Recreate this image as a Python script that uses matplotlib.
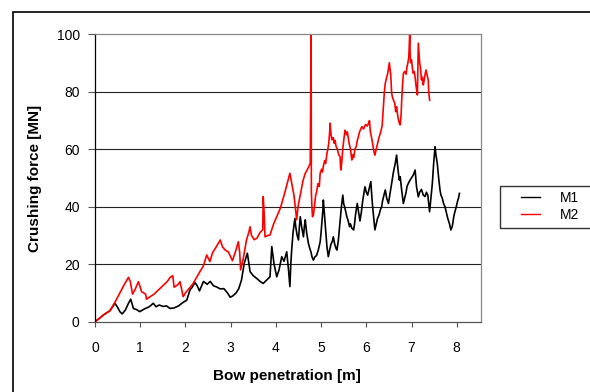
import matplotlib
matplotlib.use('Agg')
import matplotlib.pyplot as plt
from matplotlib.patches import Rectangle

# Crushing force vs bow penetration
m1_x = [0, 0.1, 0.2, 0.33, 0.44, 0.5, 0.55, 0.6, 0.67, 0.74, 0.79, 0.85, 0.92, 0.99,
        1.1, 1.2, 1.29, 1.35, 1.42, 1.51, 1.58, 1.66, 1.75, 1.85, 1.92, 2.03, 2.1,
        2.15, 2.21, 2.26, 2.31, 2.36, 2.4, 2.48, 2.55, 2.62, 2.7, 2.77, 2.85, 2.93,
        2.99, 3.05, 3.12, 3.18, 3.24, 3.3, 3.37, 3.43, 3.5, 3.58, 3.65, 3.72, 3.8,
        3.87, 3.91, 3.96, 4.02, 4.07, 4.13, 4.18, 4.24, 4.28,
        4.31, 4.33, 4.35, 4.38, 4.42, 4.44, 4.47, 4.5, 4.52, 4.54, 4.57, 4.61, 4.63,
        4.65, 4.68, 4.72, 4.75, 4.78, 4.8, 4.83, 4.86, 4.9, 4.94, 4.98, 5.0, 5.02,
        5.04, 5.05, 5.07, 5.1, 5.13, 5.16, 5.19, 5.22, 5.25, 5.27, 5.3, 5.33, 5.35,
        5.38, 5.42, 5.45, 5.48, 5.5, 5.52, 5.55, 5.57, 5.6, 5.63, 5.65, 5.68, 5.72,
        5.74, 5.76, 5.78, 5.8, 5.83, 5.86, 5.89, 5.92, 5.95, 5.97, 6.0, 6.03, 6.06,
        6.1, 6.12, 6.14, 6.17, 6.19, 6.22, 6.25, 6.28, 6.31, 6.34, 6.36, 6.39, 6.42,
        6.45, 6.49, 6.52, 6.55, 6.58, 6.6, 6.64, 6.67, 6.7, 6.73, 6.75, 6.78, 6.82,
        6.85, 6.88, 6.9, 6.93, 6.96, 7.0, 7.04, 7.08, 7.11, 7.15, 7.18, 7.22, 7.26,
        7.3, 7.33, 7.36, 7.38, 7.4, 7.43, 7.46, 7.49, 7.52, 7.54, 7.57, 7.6, 7.63,
        7.65, 7.68, 7.71, 7.74, 7.77, 7.8, 7.84, 7.87, 7.9, 7.92, 7.94, 7.96, 7.99,
        8.02, 8.04, 8.06]
m1_y = [0, 1.2, 2.5, 3.8, 6.4, 5, 3.5, 2.7, 4, 6.4, 7.8, 4.6, 4.2, 3.5,
        4.5, 5.2, 6.4, 5.2, 5.8, 5.3, 5.5, 4.6, 4.8, 5.5, 6.4, 7.5, 11,
        12, 13.6, 12.5, 10.7, 12.5, 14, 13, 14, 12.5, 12, 11.4, 11.5, 10,
        8.5, 9, 10, 11.5, 14.5, 20.3, 23.8, 17.4, 16, 15, 14, 13.3, 14.5,
        15.6, 26.1, 20, 15.6, 18, 22.6, 21, 24.3, 18,
        12.2, 20, 25, 31, 35.9, 33, 30, 28.4, 33, 36.5, 33, 29.5, 33,
        35.4, 31, 27.2, 25.5, 24, 22.5, 21.4, 22.5, 23, 25, 27.8, 31, 35,
        39, 42.3, 38, 32, 26, 22.6, 25, 27, 28, 29.5, 27, 25.5, 24.9,
        28, 35, 40, 44, 41, 40, 38, 36.5, 35, 33, 34, 32.5, 31.9,
        34, 37, 39, 41.1, 38, 35, 38, 42, 45, 46.9, 45, 44, 46,
        48.7, 44, 40, 35, 31.9, 34, 36, 37, 38.8, 40, 42, 44, 45.8,
        43, 41.1, 44, 47, 50, 52, 55, 57.9, 53, 49.2, 50.4, 46, 41.1,
        43, 45, 47, 48.1, 49, 50, 51, 52.7, 47, 43.4, 45, 46, 44,
        43.5, 45, 44, 41, 38.2, 43, 48, 55, 60.8, 58, 55, 50, 45.8,
        44, 43, 41, 40, 38, 36, 34, 31.9, 33, 35, 37, 38.2, 40,
        42, 43, 44.6]

m2_x = [0, 0.1, 0.2, 0.33, 0.45, 0.55, 0.65, 0.74, 0.78, 0.83, 0.88, 0.96, 1.0, 1.03,
        1.08, 1.12, 1.14, 1.2, 1.3, 1.4, 1.5, 1.6, 1.66, 1.72, 1.75, 1.8, 1.84, 1.88,
        1.92, 1.95, 2.0, 2.08, 2.17, 2.25, 2.32, 2.4, 2.47, 2.54, 2.6, 2.68, 2.77,
        2.82, 2.88, 2.95, 3.0, 3.04, 3.1, 3.17, 3.2, 3.22, 3.28, 3.35, 3.4, 3.43,
        3.46, 3.52, 3.58, 3.65, 3.71, 3.72, 3.74, 3.76, 3.82, 3.87, 3.95, 4.02, 4.06,
        4.1, 4.2, 4.31, 4.35, 4.4, 4.46, 4.49, 4.55, 4.6, 4.65, 4.7, 4.76, 4.78,
        4.785, 4.8, 4.81, 4.83, 4.86, 4.88, 4.9, 4.93, 4.96, 4.98, 5.01, 5.03, 5.05,
        5.08, 5.1, 5.13, 5.15, 5.17, 5.19, 5.2, 5.22, 5.24, 5.27, 5.29, 5.31, 5.33,
        5.36, 5.39, 5.42, 5.43, 5.44, 5.46, 5.48, 5.5, 5.53, 5.56, 5.58, 5.6, 5.62,
        5.65, 5.68, 5.7, 5.72, 5.75, 5.78, 5.8, 5.82, 5.85, 5.88, 5.9, 5.94, 5.98,
        6.02, 6.05, 6.07, 6.09, 6.12, 6.15, 6.17, 6.19, 6.22, 6.25, 6.28, 6.31, 6.35,
        6.38, 6.4, 6.42, 6.45, 6.47, 6.49, 6.51, 6.53, 6.54, 6.56, 6.58, 6.6, 6.63,
        6.65, 6.67, 6.7, 6.73, 6.75, 6.77, 6.78, 6.8, 6.82, 6.85, 6.88, 6.9, 6.92,
        6.94, 6.96, 6.97, 6.98, 7.0, 7.02, 7.04, 7.06, 7.08, 7.1, 7.13, 7.15, 7.17,
        7.18, 7.2, 7.22, 7.24, 7.26, 7.28, 7.3, 7.32, 7.34, 7.37, 7.38, 7.4]
m2_y = [0, 1.2, 2.5, 3.8, 7, 10, 13, 15.4, 14, 9.6, 11, 13.9, 12, 10.4,
        10, 9.5, 7.8, 8.5, 9.5, 11, 12.5, 14, 15.4, 16, 12, 12.5, 13, 13.9,
        11, 8.7, 10, 11.5, 13.3, 15.5, 17.4, 19.5, 23.2, 20.9, 24, 26, 28.4,
        26, 24.9, 24.2, 22.5, 21.2, 24, 27.8, 24, 18, 22, 28.4, 31, 33,
        30, 28.5, 29, 31, 32, 43.5, 38, 29.5, 30, 30.1, 34, 36.5, 38,
        39.5, 45, 51.6, 48.1, 44, 35.4, 40, 45, 49, 51.6, 53, 55, 100,
        45, 39, 36.5, 37.1, 41, 44, 45, 48, 47, 51.6, 53, 52, 54,
        56, 55, 58.5, 60, 62, 66, 69, 65, 63.2, 64, 62, 63, 61,
        60, 58, 57.4, 54, 52.7, 56, 60, 63, 66.6, 65, 66, 64, 62,
        60, 56.2, 58, 57, 60, 61, 63, 64, 66, 67, 67.8, 67, 68.5,
        68, 69, 69.9, 66, 63.7, 61, 59, 57.9, 60, 62, 64, 65.5, 68,
        75, 80, 82.9, 85, 86, 88, 90, 87, 86, 79.4, 78, 77, 75.9,
        73, 74.7, 71, 69, 68.4, 72, 76, 82, 86.3, 87, 86, 88.6, 90,
        92, 100, 93, 90, 91, 88, 86.3, 87, 85, 82, 78.8, 96.8, 92,
        90, 88, 84, 85, 82.3, 84, 86, 87.5, 86, 84, 80, 77]

x_ticks = [0, 1, 2, 3, 4, 5, 6, 7, 8]
y_ticks = [0, 20, 40, 60, 80, 100]

plt.rcParams['font.family'] = ['Liberation Sans', 'DejaVu Sans']

W, H = 590, 392
fig = plt.figure(figsize=(W / 100, H / 100), dpi=100)
ax = fig.add_axes([95 / W, 1 - 321.7 / H, 385.7 / W, 287.7 / H])

l1, = ax.plot(m1_x, m1_y, color='black', lw=1.2)
l2, = ax.plot(m2_x, m2_y, color='red', lw=1.2)

ax.set_xlim(0, 8.53)
ax.set_ylim(0, 100)
ax.set_xticks(x_ticks)
ax.set_yticks(y_ticks)
for v in y_ticks[1:-1]:
    ax.axhline(v, color='#222222', lw=0.8, zorder=0)

ax.tick_params(axis='y', direction='out', length=5, width=0.8, color='#555555',
               pad=6, labelsize=10)
ax.tick_params(axis='x', direction='out', length=3.6, width=0.8, color='#555555',
               pad=10.5, labelsize=10)
for s in ['top', 'right']:
    ax.spines[s].set_color('#888888')
ax.spines['left'].set_color('black')
ax.spines['bottom'].set_color('#555555')
for s in ax.spines.values():
    s.set_linewidth(0.9)

fig.text(286.5 / W, 1 - 376 / H, 'Bow penetration [m]', ha='center', va='center',
         fontsize=11, fontweight='bold')
fig.text(35 / W, 1 - 178 / H, 'Crushing force [MN]', ha='center', va='center',
         rotation=90, fontsize=11, fontweight='bold')

# outer frame of the chart area (cut off by the picture edge)
fig.add_artist(Rectangle((13 / W, -0.1), 1.2, 1 - 12 / H + 0.1, transform=fig.transFigure,
                         fill=False, edgecolor='black', lw=1.2))

# legend box, also running off the right edge
fig.add_artist(Rectangle((499.5 / W, 1 - 228.3 / H), 0.2, 42.6 / H, transform=fig.transFigure,
                         fill=False, edgecolor='#333333', lw=1.0))
leg = fig.legend([l1, l2], ['M1', 'M2'], loc='center left',
                 bbox_to_anchor=(514 / W, 1 - 206.5 / H), frameon=False, fontsize=10,
                 handlelength=1.4, handletextpad=1.4, labelspacing=0.25, borderpad=0)
for h in leg.get_lines():
    h.set_linewidth(1.0)

fig.savefig('out.png', dpi=100)
